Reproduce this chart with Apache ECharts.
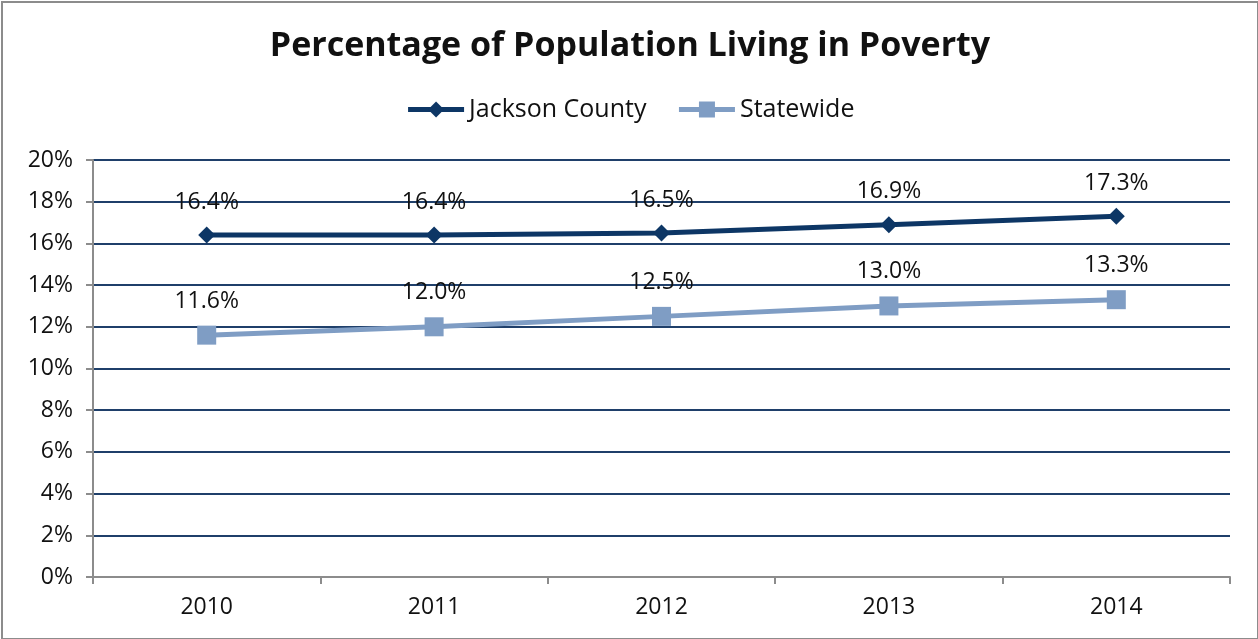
<!DOCTYPE html>
<html>
<head>
<meta charset="utf-8">
<script src="https://cdn.jsdelivr.net/npm/echarts@6/dist/echarts.min.js"></script>
<style>
  html, body { margin: 0; padding: 0; background: #fff; }
  #frame {
    position: absolute; left: 1px; top: 1px;
    width: 1254px; height: 635px;
    border: 2px solid #8c8c8c;
  }
  #chart { width: 100%; height: 100%; }
</style>
</head>
<body>
<div id="frame"><div id="chart"></div></div>
<script>
const years = ['2010', '2011', '2012', '2013', '2014']
const jackson = [16.4, 16.4, 16.5, 16.9, 17.3]
const statewide = [11.6, 12.0, 12.5, 13.0, 13.3]

const chart = echarts.init(document.getElementById('chart'))
const font = '"Open Sans", sans-serif'

const option = {
  animation: false,
  title: {
    text: 'Percentage of Population Living in Poverty',
    left: 'center',
    top: 21,
    textStyle: { fontSize: 34, fontWeight: 'bold', color: '#111', fontFamily: font }
  },
  legend: {
    top: 89,
    left: 'center',
    itemWidth: 56,
    itemHeight: 20,
    itemGap: 30,
    textStyle: { fontSize: 25, color: '#111', fontFamily: font },
    lineStyle: { width: 5 },
    data: ['Jackson County', 'Statewide']
  },
  grid: { left: 90, right: 27, top: 157, bottom: 61 },
  xAxis: {
    type: 'category',
    data: years,
    boundaryGap: true,
    axisLine: { lineStyle: { color: '#8c8c8c', width: 2 } },
    axisTick: { show: true, length: 7, lineStyle: { color: '#8c8c8c', width: 2 } },
    axisLabel: { fontSize: 23, color: '#111', margin: 19, fontFamily: font }
  },
  yAxis: {
    type: 'value',
    min: 0,
    max: 20,
    interval: 2,
    axisLine: { show: true, lineStyle: { color: '#8c8c8c', width: 2 } },
    axisTick: { show: true, length: 7, lineStyle: { color: '#8c8c8c', width: 2 } },
    axisLabel: { fontSize: 23, color: '#111', margin: 20, formatter: '{value}%', fontFamily: font },
    splitLine: { lineStyle: { color: '#1f3f6a', width: 2 } }
  },
  series: [
    {
      name: 'Jackson County',
      type: 'line',
      data: jackson,
      symbol: 'diamond',
      symbolSize: 17,
      lineStyle: { color: '#0d3665', width: 5 },
      itemStyle: { color: '#0d3665' },
      label: {
        show: true, position: 'top', distance: 13,
        fontSize: 23, color: '#111', fontFamily: font,
        formatter: (p) => p.value.toFixed(1) + '%'
      }
    },
    {
      name: 'Statewide',
      type: 'line',
      data: statewide,
      symbol: 'rect',
      symbolSize: 19,
      lineStyle: { color: '#7f9dc4', width: 5 },
      itemStyle: { color: '#7f9dc4' },
      label: {
        show: true, position: 'top', distance: 13,
        fontSize: 23, color: '#111', fontFamily: font,
        formatter: (p) => p.value.toFixed(1) + '%'
      }
    }
  ]
}

chart.setOption(option)
</script>
</body>
</html>
